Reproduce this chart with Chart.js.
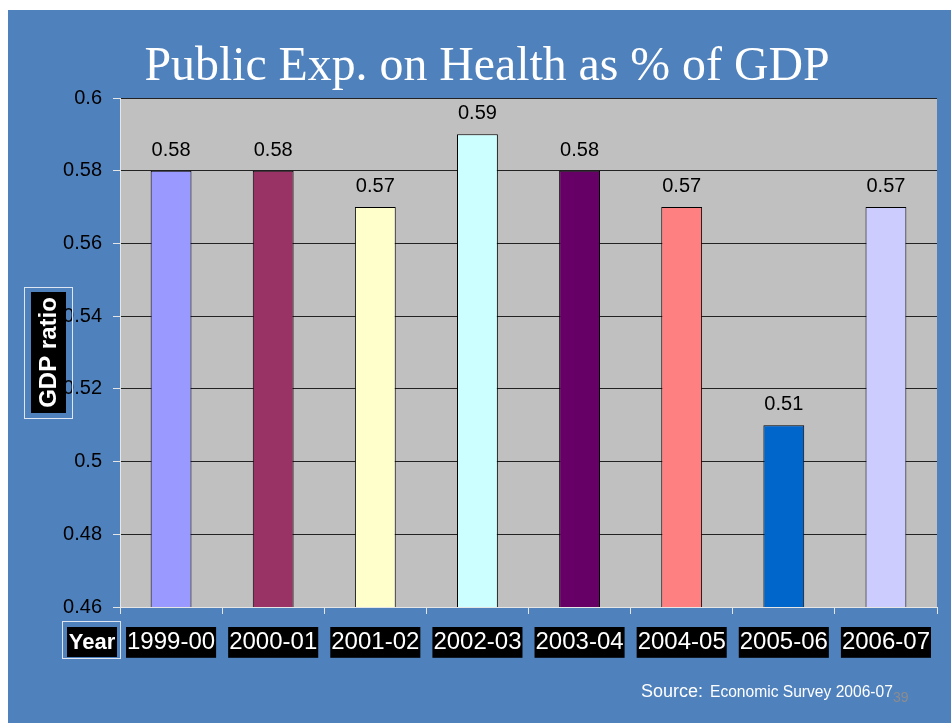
<!DOCTYPE html>
<html>
<head>
<meta charset="utf-8">
<script src="https://cdn.jsdelivr.net/npm/chart.js@4/dist/chart.umd.min.js"></script>
<style>
  html, body { margin: 0; padding: 0; background: #fff; }
  canvas { display: block; }
</style>
</head>
<body>
<canvas id="chart" width="951" height="723"></canvas>
<script>
// Public expenditure on health as % of GDP
const years = ['1999-00', '2000-01', '2001-02', '2002-03', '2003-04', '2004-05', '2005-06', '2006-07'];
const gdpRatio = [0.58, 0.58, 0.57, 0.59, 0.58, 0.57, 0.51, 0.57];
const barColors = ['#9999ff', '#993366', '#ffffcc', '#ccffff', '#660066', '#ff8080', '#0066cc', '#ccccff'];
const yMin = 0.46;
const yMax = 0.6;
const yStep = 0.02;

const TITLE = 'Public Exp. on Health as % of GDP';
const BLUE = '#4f81bd';

const slidePlugin = {
  id: 'slide',
  beforeDraw(chart) {
    const ctx = chart.ctx;
    const area = chart.chartArea;
    ctx.save();
    ctx.fillStyle = '#fff';
    ctx.fillRect(0, 0, chart.width, chart.height);
    ctx.fillStyle = BLUE;
    ctx.fillRect(8, 10, chart.width - 8, chart.height - 10);
    ctx.fillStyle = '#c0c0c0';
    ctx.fillRect(area.left, area.top, area.right - area.left, area.bottom - area.top);

    // title, squeezed a little like the slide font
    ctx.font = '48px "Liberation Serif", "Times New Roman", serif';
    ctx.fillStyle = '#fff';
    ctx.textBaseline = 'alphabetic';
    ctx.textAlign = 'center';
    const w = ctx.measureText(TITLE).width;
    const sx = Math.min(1, 685 / w);
    ctx.translate(487, 80);
    ctx.scale(sx, 1);
    ctx.fillText(TITLE, 0, 0);
    ctx.restore();
  },
  afterDatasetsDraw(chart) {
    const ctx = chart.ctx;
    const meta = chart.getDatasetMeta(0);
    ctx.save();
    ctx.font = '20px "Liberation Sans", Arial, sans-serif';
    ctx.fillStyle = '#000';
    ctx.textAlign = 'center';
    ctx.textBaseline = 'alphabetic';
    meta.data.forEach((bar, i) => {
      const { x, y } = bar.getProps(['x', 'y'], true);
      ctx.fillText(String(gdpRatio[i]), x, y - 15);
    });
    ctx.restore();
  },
  afterDraw(chart) {
    const ctx = chart.ctx;
    ctx.save();

    // y-axis title box
    ctx.strokeStyle = '#dde6f2';
    ctx.lineWidth = 1;
    ctx.strokeRect(24.5, 287.5, 48, 131);
    ctx.fillStyle = '#000';
    ctx.fillRect(31, 292, 35, 121);
    ctx.translate(48.5, 352.5);
    ctx.rotate(-Math.PI / 2);
    ctx.font = 'bold 24px "Liberation Sans", Arial, sans-serif';
    ctx.fillStyle = '#fff';
    ctx.textAlign = 'center';
    ctx.textBaseline = 'middle';
    ctx.fillText('GDP ratio', 0, 1);
    ctx.setTransform(1, 0, 0, 1, 0, 0);

    // "Year" box
    ctx.strokeRect(62.5, 621.5, 58, 37);
    ctx.fillStyle = '#000';
    ctx.fillRect(67, 627, 50, 30);
    ctx.font = 'bold 22px "Liberation Sans", Arial, sans-serif';
    ctx.fillStyle = '#fff';
    ctx.textAlign = 'center';
    ctx.textBaseline = 'middle';
    ctx.fillText('Year', 92, 643);

    // source note
    ctx.textAlign = 'left';
    ctx.textBaseline = 'alphabetic';
    ctx.font = '18px "Liberation Sans", Arial, sans-serif';
    ctx.fillText('Source:', 641, 697);
    ctx.font = '15.6px "Liberation Sans", Arial, sans-serif';
    ctx.fillText('Economic Survey 2006-07', 710, 697);
    ctx.fillStyle = '#8c8c8c';
    ctx.font = '14px "Liberation Sans", Arial, sans-serif';
    ctx.fillText('39', 893, 702);
    ctx.restore();
  }
};

new Chart(document.getElementById('chart'), {
  type: 'bar',
  data: {
    labels: years,
    datasets: [{
      data: gdpRatio,
      backgroundColor: barColors,
      borderColor: '#000',
      borderWidth: 1,
      barPercentage: 0.4,
      categoryPercentage: 1,
    }],
  },
  options: {
    responsive: false,
    animation: false,
    layout: { padding: { left: 0, right: 14, top: 98, bottom: 56 } },
    plugins: {
      legend: { display: false },
      title: { display: false },
      tooltip: { enabled: false },
    },
    scales: {
      x: {
        afterFit: (s) => { s.height = 60; },
        border: { color: '#e6e6e6', width: 1 },
        grid: { drawOnChartArea: false, tickColor: '#e6e6e6', tickLength: 7, offset: true },
        ticks: {
          color: '#fff',
          padding: 14,
          maxRotation: 0,
          autoSkip: false,
          font: { family: '"Liberation Sans", Arial, sans-serif', size: 24 },
          showLabelBackdrop: true,
          backdropColor: '#000',
          backdropPadding: { x: 1, y: 1 },
        },
      },
      y: {
        min: yMin,
        max: yMax,
        afterFit: (s) => { s.width = 120; },
        border: { color: '#e6e6e6', width: 1 },
        grid: { color: '#222', tickColor: '#e6e6e6', tickLength: 7 },
        ticks: {
          stepSize: yStep,
          color: '#000',
          padding: 11,
          font: { family: '"Liberation Sans", Arial, sans-serif', size: 20 },
          callback: (v) => String(+v.toFixed(2)),
        },
      },
    },
  },
  plugins: [slidePlugin],
});
</script>
</body>
</html>
